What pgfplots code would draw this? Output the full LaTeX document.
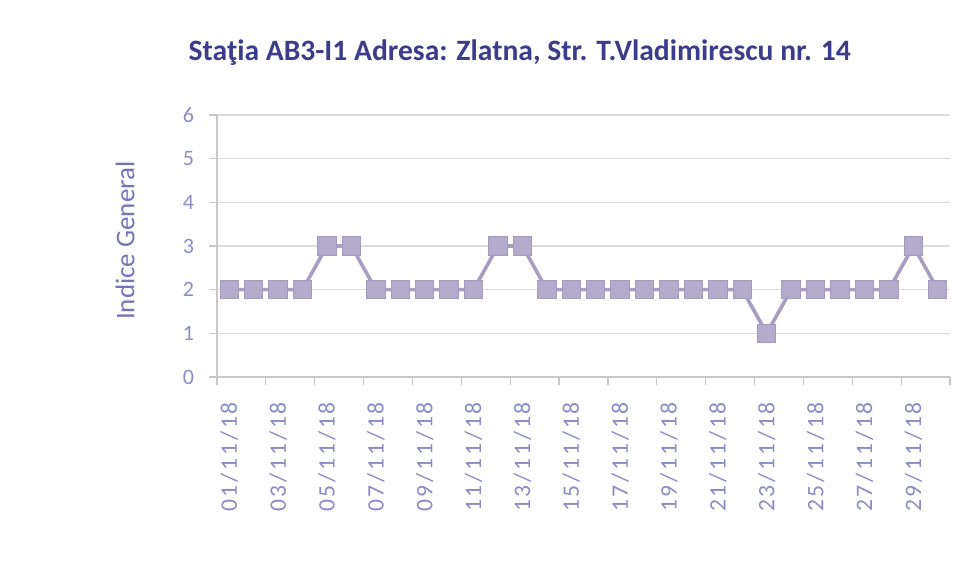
\documentclass[border=0pt]{standalone}
\usepackage{fontspec}
\setmainfont{Carlito}
\newfontfamily\tickfont[LetterSpace=12]{Carlito}
\usepackage{pgfplots}
\pgfplotsset{compat=1.18}
\definecolor{titlecol}{HTML}{3C3C8C}
\definecolor{labcol}{HTML}{7474B8}
\definecolor{tickcol}{HTML}{8C8CC4}
\definecolor{markfill}{HTML}{B4AACA}
\definecolor{markdraw}{HTML}{A49AC0}
\definecolor{linecol}{HTML}{A89EC2}
\definecolor{gridcol}{HTML}{DCDCDC}
\definecolor{axcol}{HTML}{C8C8C8}
\begin{document}
\begin{tikzpicture}
\begin{axis}[
  scale only axis,
  width=366.5pt, height=131pt,
  xmin=0.5, xmax=30.5,
  ymin=0, ymax=6,
  ytick={0,1,...,6},
  xtick={1,3,...,29},
  xticklabels={01/11/18,03/11/18,05/11/18,07/11/18,09/11/18,11/11/18,13/11/18,15/11/18,17/11/18,19/11/18,21/11/18,23/11/18,25/11/18,27/11/18,29/11/18},
  minor xtick={0.5,2.5,...,30.5},
  major x tick style={draw=none},
  minor x tick style={axcol, line width=0.6pt},
  y tick style={axcol, line width=0.6pt},
  tick align=outside,
  major tick length=4pt,
  minor tick length=4pt,
  axis x line*=bottom,
  axis y line*=left,
  axis line style={axcol, line width=0.6pt},
  ymajorgrids,
  grid style={gridcol, line width=0.6pt},
  /pgf/number format/assume math mode=true,
  xticklabel style={yshift=-5pt, rotate=90, anchor=east, font=\tickfont\fontsize{11.8}{13}\selectfont, text=tickcol},
  yticklabel style={font=\fontsize{11}{12}\selectfont, text=tickcol, xshift=-4pt},
  ylabel={Indice General},
  ylabel style={at={(axis description cs:-0.1255,0.52)}, anchor=center, font=\fontsize{13.5}{15}\selectfont, text=labcol},
  title={\textbf{Staţia AB3-I1 Adresa: Zlatna, Str. T.Vladimirescu nr. 14}},
  title style={at={(axis description cs:0.413,1)}, anchor=center, yshift=25pt, font=\fontsize{14.8}{17}\selectfont, text=titlecol},
  clip=false,
]
\addplot[linecol, line width=1.8pt, mark=square*, mark size=4.6pt,
  mark options={fill=markfill, draw=markdraw, line width=0.5pt}]
coordinates {
(1,2)(2,2)(3,2)(4,2)(5,3)(6,3)(7,2)(8,2)(9,2)(10,2)
(11,2)(12,3)(13,3)(14,2)(15,2)(16,2)(17,2)(18,2)(19,2)(20,2)
(21,2)(22,2)(23,1)(24,2)(25,2)(26,2)(27,2)(28,2)(29,3)(30,2)
};
\end{axis}
\pgfresetboundingbox
\useasboundingbox ([shift={(-108.5pt,-99.5pt)}]current axis.south west) rectangle ([shift={(371pt,188.5pt)}]current axis.south west);
\end{tikzpicture}
\end{document}
